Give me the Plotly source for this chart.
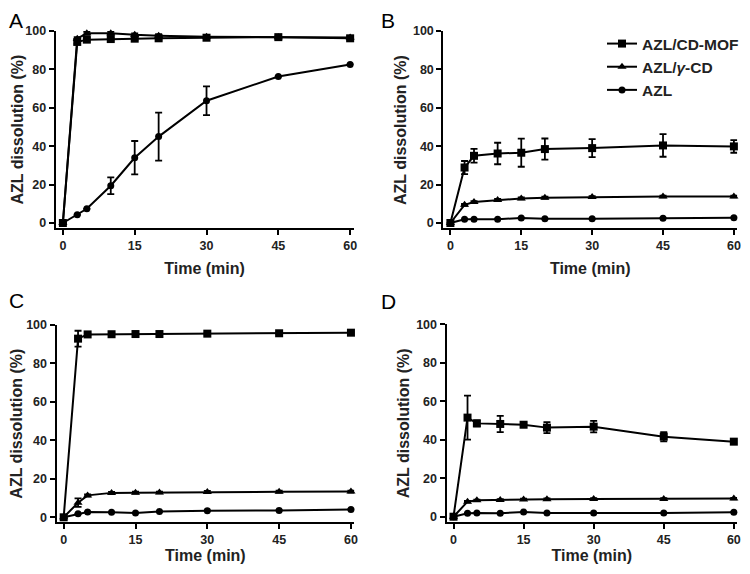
import plotly.graph_objects as go

time = [0, 3, 5, 10, 15, 20, 30, 45, 60]
series_names = ["AZL/CD-MOF", "AZL/<i>\u03b3</i>-CD", "AZL"]

# Panel A
A_mof = [0, 94.3, 95.5, 95.8, 96.0, 96.2, 96.5, 96.8, 96.2]
A_mof_err = [0, 1.0, 1.0, 0.8, 0.8, 0.8, 0.8, 0.8, 0.8]
A_cd = [0, 96.0, 98.8, 98.8, 98.0, 97.5, 97.0, 96.8, 96.6]
A_cd_err = [0, 0.8, 0.8, 0.8, 0.8, 0.8, 0.8, 0.8, 0.8]
A_azl = [0, 4.3, 7.4, 19.4, 34.0, 45.0, 63.7, 76.3, 82.6]
A_azl_err = [0, 0, 0, 4.4, 8.7, 12.5, 7.5, 0, 0]

# Panel B
B_mof = [0, 28.9, 35.0, 36.2, 36.6, 38.5, 39.0, 40.4, 39.9]
B_mof_err = [0, 3.4, 3.6, 5.6, 7.3, 5.5, 4.7, 5.9, 3.3]
B_cd = [0, 9.5, 10.9, 12.0, 12.8, 13.2, 13.5, 13.8, 13.8]
B_cd_err = [0, 0.5, 0.5, 0.5, 0.5, 0.5, 0.5, 0.5, 0.5]
B_azl = [0, 1.9, 2.0, 2.0, 2.6, 2.2, 2.2, 2.5, 2.8]
B_azl_err = [0, 0, 0, 0, 0, 0, 0, 0, 0]

# Panel C
C_mof = [0, 92.9, 95.1, 95.2, 95.3, 95.3, 95.5, 95.7, 96.0]
C_mof_err = [0, 4.1, 0.5, 0.5, 0.5, 0.5, 0.5, 0.5, 0.5]
C_cd = [0, 7.6, 11.4, 12.7, 12.8, 12.9, 13.2, 13.3, 13.4]
C_cd_err = [0, 2.2, 0.5, 0.5, 0.5, 0.5, 0.5, 0.5, 0.5]
C_azl = [0, 1.8, 2.8, 2.6, 2.3, 3.0, 3.4, 3.6, 4.1]
C_azl_err = [0, 0, 0, 0, 0, 0, 0, 0, 0]

# Panel D
D_mof = [0, 51.5, 48.5, 48.2, 47.8, 46.3, 46.8, 41.6, 39.0]
D_mof_err = [0, 11.4, 1.6, 4.2, 1.0, 2.9, 3.0, 2.4, 0.8]
D_cd = [0, 7.8, 8.5, 8.7, 9.0, 9.1, 9.2, 9.2, 9.4]
D_cd_err = [0, 0.4, 0.4, 0.4, 0.4, 0.4, 0.4, 0.4, 0.4]
D_azl = [0, 1.8, 1.9, 1.8, 2.4, 1.9, 1.9, 1.9, 2.3]
D_azl_err = [0, 0, 0, 0, 0, 0, 0, 0, 0]

panels = [
    ("A", [A_mof, A_cd, A_azl], [A_mof_err, A_cd_err, A_azl_err]),
    ("B", [B_mof, B_cd, B_azl], [B_mof_err, B_cd_err, B_azl_err]),
    ("C", [C_mof, C_cd, C_azl], [C_mof_err, C_cd_err, C_azl_err]),
    ("D", [D_mof, D_cd, D_azl], [D_mof_err, D_cd_err, D_azl_err]),
]

x_ticks = [0, 15, 30, 45, 60]
y_ticks = [0, 20, 40, 60, 80, 100]

# the page body keeps an 8px margin, so the figure is sized to fit inside it
W, H = 733, 556
xdomains = [(47.7, 345.5), (435.3, 729.2), (48.5, 346.3), (438.5, 729.1)]
ydomains = [(220.0, 23.0), (220.0, 23.0), (514.3, 317.0), (513.7, 316.3)]
# (x, y, yanchor) of the panel letters, in figure pixels
letter_pos = [(0, 0, "top"), (372, 0, "top"), (0, 292, "middle"), (372, 293.7, "middle")]
ytitle_x = [9, 392.5, 9, 395.3]
xtitle_standoff = [11, 11, 5, 5]

symbols = ["square", "triangle-up", "circle"]
sizes = [8, 8, 7]

FONT = "Arial, Liberation Sans, Helvetica, sans-serif"
TXT = "#222"

fig = go.Figure()
for i, (letter, vals, errs) in enumerate(panels):
    sfx = "" if i == 0 else str(i + 1)
    for j in range(3):
        fig.add_trace(go.Scatter(
            x=time, y=vals[j], mode="lines+markers",
            name=series_names[j],
            showlegend=(i == 1),
            xaxis="x" + sfx, yaxis="y" + sfx,
            line=dict(color="black", width=2),
            marker=dict(symbol=symbols[j], size=sizes[j], color="black"),
            error_y=dict(type="data", array=errs[j], visible=True,
                         color="black", thickness=1.8, width=3.5),
            cliponaxis=False,
        ))
    xd = xdomains[i]
    yd = ydomains[i]
    axis_common = dict(showline=True, linecolor="black", linewidth=2,
                       ticks="outside", ticklen=5, tickwidth=2, tickcolor="black",
                       showgrid=False, zeroline=False, automargin=False,
                       tickfont=dict(family=FONT, size=12.5, color=TXT, weight="bold"))
    fig.update_layout(**{
        "xaxis" + sfx: dict(domain=[xd[0] / W, xd[1] / W], range=[-1.5, 60.7],
                            tickvals=x_ticks, anchor="y" + sfx,
                            title=dict(text="Time (min)", standoff=xtitle_standoff[i],
                                       font=dict(family=FONT, size=16, color=TXT,
                                                 weight="bold")),
                            **axis_common),
        "yaxis" + sfx: dict(domain=[1 - yd[0] / H, 1 - yd[1] / H], range=[-2.6, 100],
                            tickvals=y_ticks, anchor="x" + sfx,
                            **axis_common),
    })
    fig.add_annotation(text="AZL dissolution (%)", textangle=-90,
                       x=ytitle_x[i] / W, y=1 - (yd[0] + yd[1]) / 2 / H,
                       xref="paper", yref="paper", xanchor="center", yanchor="middle",
                       showarrow=False,
                       font=dict(family=FONT, size=16, color=TXT, weight="bold"))
    lx, ly, lanchor = letter_pos[i]
    fig.add_annotation(text=letter, x=lx / W, y=1 - ly / H,
                       xref="paper", yref="paper", xanchor="left", yanchor=lanchor,
                       showarrow=False, borderpad=0,
                       font=dict(family=FONT, size=21, color="black"))

fig.update_layout(
    width=W, height=H,
    margin=dict(l=0, r=0, t=0, b=0, autoexpand=False),
    paper_bgcolor="white", plot_bgcolor="white",
    legend=dict(x=594 / W, y=1 - 19 / H, xanchor="left", yanchor="top",
                font=dict(family=FONT, size=15.5, color=TXT, weight="bold"),
                bgcolor="rgba(0,0,0,0)", tracegroupgap=0, itemwidth=30),
    font=dict(family=FONT),
)

fig.write_html("out.html")
